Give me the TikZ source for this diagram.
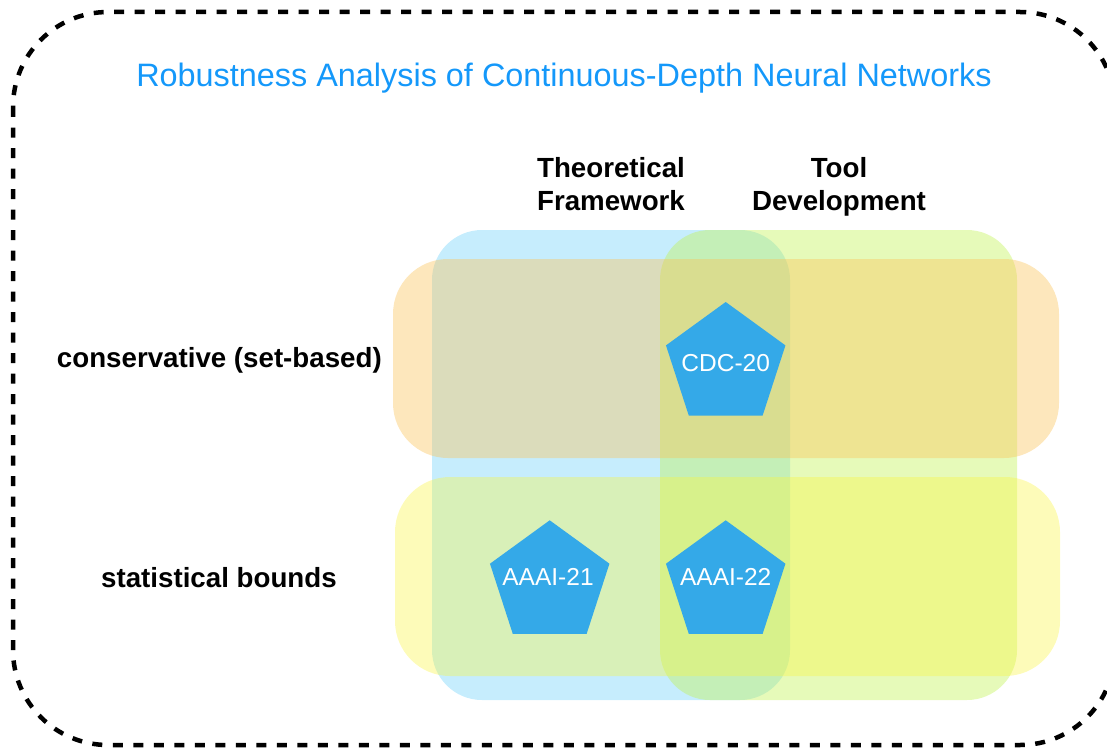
\documentclass[tikz,border=0pt]{standalone}
\usepackage{fontspec}
\setmainfont{Liberation Sans}
\usetikzlibrary{shapes.geometric}

\definecolor{titleblue}{RGB}{20,152,250}
\definecolor{venueblue}{RGB}{52,169,232}
\definecolor{colblue}{RGB}{112,210,250}
\definecolor{colgreen}{RGB}{192,242,80}
\definecolor{roworange}{RGB}{250,195,87}
\definecolor{rowyellow}{RGB}{250,245,62}

\tikzset{
  band/.style={fill opacity=0.4, draw=none},
  colband/.style={band, rounded corners=50pt},
  rowband/.style={band, rounded corners=55pt},
  venue/.style={regular polygon, regular polygon sides=5, minimum size=125.6pt,
                inner sep=0pt, fill=venueblue, draw=none},
  venuetext/.style={anchor=base, inner sep=0pt, text=white,
                    font=\fontsize{24.5}{29}\selectfont},
  axislabel/.style={inner sep=0pt, font=\fontsize{27.7}{33}\selectfont\bfseries},
  frame/.style={line width=4.5pt, dash pattern=on 10pt off 10.5pt, rounded corners=95pt},
}

\begin{document}
\begin{tikzpicture}[x=1pt,y=-1pt]
\useasboundingbox (0,0) rectangle (1107,749);
\clip (0,0) rectangle (1107,749);

% outer dashed frame (its right side runs past the page edge)
\draw[frame] (13,12) rectangle (1115,745);

% title
\node[anchor=base, inner sep=0pt, text=titleblue, font=\fontsize{32.4}{38}\selectfont]
  (title) at (564,86.7) {Robustness Analysis of Continuous-Depth Neural Networks};

% column bands
\fill[colband, fill=colblue]  (432,230) rectangle (790,700);
\fill[colband, fill=colgreen] (660,230) rectangle (1017,700);

% row bands
\fill[rowband, fill=roworange] (393,259) rectangle (1059,458);
\fill[rowband, fill=rowyellow, fill opacity=0.36] (395,477) rectangle (1060,676);

% column headers
\node[axislabel, anchor=base] (theoA) at (611,177.3) {Theoretical};
\node[axislabel, anchor=base] (theoB) at (611,210.8) {Framework};
\node[axislabel, anchor=base] (toolA) at (839,177.3) {Tool};
\node[axislabel, anchor=base] (toolB) at (839,210.8) {Development};

% row headers
\node[axislabel, anchor=base east] (cons) at (382,367) {conservative (set-based)};
\node[axislabel, anchor=base west] (stat) at (101,587) {statistical bounds};

% publications
\node[venue] (cdc)  at (725.7,364.8) {};
\node[venue] (aaa1) at (549.7,583.1) {};
\node[venue] (aaa2) at (725.7,583.1) {};
\node[venuetext] (cdcT)  at (725.7,371.7) {CDC-20};
\node[venuetext] (aaa1T) at (548.0,585.0) {AAAI-21};
\node[venuetext] (aaa2T) at (725.7,585.0) {AAAI-22};
\end{tikzpicture}
\end{document}
